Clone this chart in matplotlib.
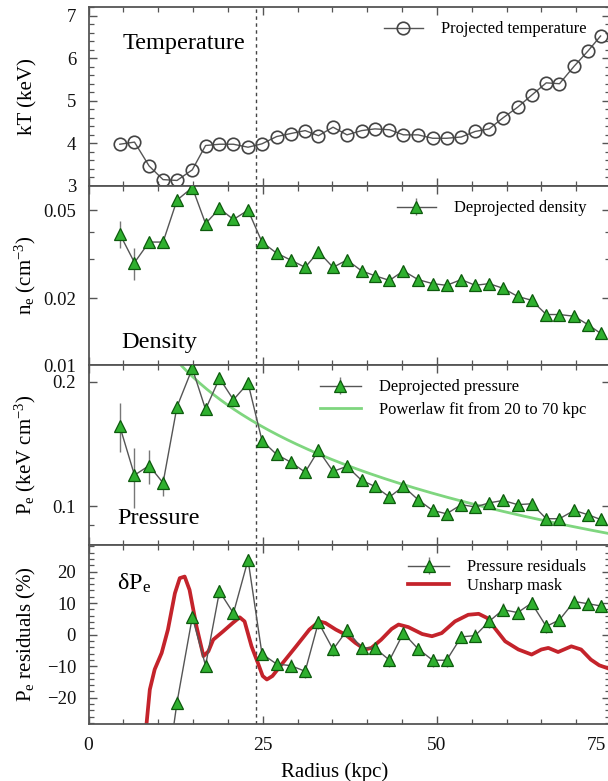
import matplotlib
matplotlib.use("Agg")
import matplotlib.pyplot as plt
from matplotlib.ticker import FixedLocator, NullFormatter, FixedFormatter, MultipleLocator
from matplotlib.transforms import offset_copy
import numpy as np

plt.rcParams['font.family'] = ['Liberation Serif', 'DejaVu Serif']
plt.rcParams['mathtext.fontset'] = 'stix'

# ---------------- data ----------------
radius = [4.5, 6.6, 8.7, 10.7, 12.7, 14.9, 16.8, 18.8, 20.8, 22.9, 24.9, 27.0, 29.0,
          31.1, 33.0, 35.1, 37.1, 39.2, 41.1, 43.2, 45.2, 47.3, 49.4, 51.4, 53.5,
          55.5, 57.5, 59.5, 61.6, 63.6, 65.7, 67.6, 69.7, 71.7, 73.5]

temperature = [3.98, 4.03, 3.47, 3.15, 3.13, 3.38, 3.95, 3.98, 3.98, 3.91, 3.99, 4.16,
               4.23, 4.30, 4.18, 4.38, 4.20, 4.30, 4.34, 4.32, 4.20, 4.20, 4.12, 4.12,
               4.15, 4.28, 4.34, 4.60, 4.85, 5.13, 5.42, 5.40, 5.81, 6.17, 6.52]

density = [0.039, 0.029, 0.0359, 0.0359, 0.0555, 0.0633, 0.0435, 0.0509, 0.0454, 0.050,
           0.0359, 0.032, 0.0298, 0.0276, 0.0325, 0.0276, 0.0298, 0.0266, 0.0253, 0.0241,
           0.0266, 0.0243, 0.0233, 0.0229, 0.0243, 0.0229, 0.0233, 0.0222, 0.0204, 0.0196,
           0.0169, 0.0169, 0.0166, 0.0152, 0.0139]
density_lo = [0.0337, 0.0242]
density_hi = [0.0445, 0.0337]
density_err = 0.0007

pressure = [0.156, 0.119, 0.1255, 0.114, 0.174, 0.2155, 0.1716, 0.204, 0.181, 0.1985,
            0.1443, 0.1335, 0.128, 0.121, 0.1367, 0.1215, 0.125, 0.1156, 0.1118, 0.1054,
            0.1118, 0.1038, 0.0978, 0.096, 0.101, 0.0997, 0.102, 0.1034, 0.101, 0.1015,
            0.0934, 0.0934, 0.0978, 0.0955, 0.093]
pressure_lo = [0.135, 0.0991, 0.1135, 0.1057]
pressure_hi = [0.178, 0.1386, 0.1367, 0.1183]
pressure_err = 0.0012

fit_norm = 0.156      # keV cm^-3 at fit_r0
fit_r0 = 24.9         # kpc
fit_index = -0.542
fit_rmin, fit_rmax = 10.0, 76.0

residuals = [-60, -63, -54, -53, -21.5, 5.6, -9.8, 13.7, 6.8, 23.7, -6.1, -9.3, -9.8,
             -11.6, 3.9, -4.7, 1.4, -4.2, -4.2, -8.1, 0.5, -4.5, -8.1, -8.1, -0.7,
             -0.3, 4.2, 7.9, 7.0, 10.0, 2.6, 4.7, 10.5, 9.8, 9.1]
residual_err = 2.0

mask_r = [7.6, 8.34, 8.8, 9.5, 10.5, 11.4, 12.4, 13.1, 13.8, 14.5, 15.5, 16.5, 17.2, 17.9,
          19.3, 20.7, 21.7, 22.4, 23.4, 24.3, 25.0, 25.6, 26.4, 27.9, 29.8, 31.7, 33.1,
          34.0, 35.5, 36.9, 38.3, 39.7, 40.6, 42.0, 43.5, 44.5, 45.9, 47.9, 49.3, 50.7,
          52.6, 54.5, 56.0, 57.2, 58.3, 59.8, 61.7, 63.6, 65.0, 66.0, 67.4, 69.3, 70.7,
          72.1, 73.3, 75.0]
mask_val = [-45, -28, -17.4, -11, -5.8, 1.6, 13.1, 17.9, 18.4, 14.2, 2.6, -6.8, -5.3, -1.6,
            1.0, 3.7, 5.5, 4.2, -3.7, -8.9, -13.1, -14.2, -13.1, -8.9, -3.7, 1.6, 4.2,
            3.7, 1.6, 0.0, -2.6, -4.7, -4.2, -1.6, 1.8, 3.2, 2.4, 0.2, -0.5, 0.5,
            4.2, 6.3, 6.6, 5.3, 2.1, -2.1, -4.7, -6.3, -4.7, -4.2, -5.5, -3.7, -4.7,
            -7.9, -9.7, -11.0]

break_radius = 24.0
x_ticks = [0, 25, 50, 75]

# ---------------- figure ----------------
W, H = 608, 781
fig = plt.figure(figsize=(W / 100, H / 100), dpi=100)

left_px, right_px = 88.5, 609.5
bounds = [(7, 186), (186, 365), (365, 545), (545, 724)]
axes = []
for (t, b) in bounds:
    ax = fig.add_axes([left_px / W, 1 - b / H, (right_px - left_px) / W, (b - t) / H])
    axes.append(ax)

xmax = (right_px - 88.3) / 6.97
spine_col = '#555555'
green_face = '#2fb02f'
green_edge = '#0d5a0d'
line_gray = '#555555'
leg_kw = dict(loc='upper right', bbox_to_anchor=(0.975, 0.975), frameon=False, fontsize=11.9,
              handlelength=2.35, handletextpad=1.1, borderaxespad=0.2)

for i, ax in enumerate(axes):
    ax.set_xlim(0, xmax)
    ax.xaxis.set_major_locator(FixedLocator(x_ticks))
    ax.xaxis.set_minor_locator(MultipleLocator(5))
    ax.tick_params(which='both', direction='in', top=True, right=True, colors=spine_col,
                   labelcolor='#111111', labelsize=13.5)
    ax.tick_params(axis='y', pad=9)
    ax.tick_params(which='major', length=6, width=1.0)
    ax.tick_params(which='minor', length=3.5, width=0.9)
    for s in ax.spines.values():
        s.set_color(spine_col)
        s.set_linewidth(1.3)
    if i < 3:
        ax.tick_params(labelbottom=False)
    ax.axvline(break_radius, color='#444444', lw=1.0, ls=(0, (2.5, 2.5)), zorder=1)
    ax.yaxis.set_label_coords(-0.097, 0.5)

# Temperature
ax = axes[0]
ax.plot(radius, temperature, color=line_gray, lw=1.0, marker='o', ms=9.0, mfc='none',
        mec='#444444', mew=1.2, label='Projected temperature', zorder=3)
ax.set_ylim(3.0, 7.2)
ax.yaxis.set_major_locator(FixedLocator([3, 4, 5, 6, 7]))
ax.yaxis.set_minor_locator(MultipleLocator(0.2))
ax.set_ylabel('kT (keV)', fontsize=15)
ax.text(0.066, 0.795, 'Temperature', transform=ax.transAxes, fontsize=17.5, va='center', ha='left')
ax.legend(**leg_kw)

# Density
ax = axes[1]
ax.set_yscale('log')
d = np.array(density)
dlo = d - density_err
dhi = d + density_err
dlo[:2] = density_lo
dhi[:2] = density_hi
ax.errorbar(radius, d, yerr=[d - dlo, dhi - d],
            color=line_gray, lw=1.0, ecolor='#777777', elinewidth=1.0, capsize=0,
            marker='^', ms=8.5, mfc=green_face, mec=green_edge, mew=0.9,
            label='Deprojected density', zorder=3)
ax.set_ylim(0.01, 0.0643)
ax.yaxis.set_major_locator(FixedLocator([0.01, 0.02, 0.05]))
ax.yaxis.set_major_formatter(FixedFormatter(['0.01', '0.02', '0.05']))
ax.yaxis.set_minor_locator(FixedLocator([0.03, 0.04]))
ax.yaxis.set_minor_formatter(NullFormatter())
ax.set_ylabel(r'n$\mathregular{_e}$ (cm$\mathregular{^{-3}}$)', fontsize=15)
ax.text(0.062, 0.125, 'Density', transform=ax.transAxes, fontsize=17.5, va='center', ha='left')
ax.legend(**leg_kw)

# Pressure
ax = axes[2]
ax.set_yscale('log')
p = np.array(pressure)
lo = p - pressure_err
hi = p + pressure_err
lo[:4] = pressure_lo
hi[:4] = pressure_hi
rfit = np.linspace(fit_rmin, fit_rmax, 200)
ax.plot(rfit, fit_norm * (rfit / fit_r0) ** fit_index, color='#7fd67f', lw=2.0,
        label='Powerlaw fit from 20 to 70 kpc', zorder=2)
ax.errorbar(radius, p, yerr=[p - lo, hi - p], color=line_gray, lw=1.0, ecolor='#777777',
            elinewidth=1.0, capsize=0, marker='^', ms=8.5, mfc=green_face, mec=green_edge,
            mew=0.9, label='Deprojected pressure', zorder=3)
ax.set_ylim(0.0807, 0.2196)
ax.yaxis.set_major_locator(FixedLocator([0.1, 0.2]))
ax.yaxis.set_major_formatter(FixedFormatter(['0.1', '0.2']))
ax.yaxis.set_minor_locator(FixedLocator([0.09]))
ax.yaxis.set_minor_formatter(NullFormatter())
ax.set_ylabel(r'P$\mathregular{_e}$ (keV cm$\mathregular{^{-3}}$)', fontsize=15)
ax.text(0.055, 0.145, 'Pressure', transform=ax.transAxes, fontsize=17.5, va='center', ha='left')
h, l = ax.get_legend_handles_labels()
kw = dict(leg_kw)
kw['handlelength'] = 2.5
ax.legend([h[1], h[0]], [l[1], l[0]], labelspacing=0.4, **kw)

# Residuals
ax = axes[3]
ax.plot(mask_r, mask_val, color='#c4232b', lw=2.7, label='Unsharp mask', zorder=2)
ax.errorbar(radius, residuals, yerr=residual_err, color=line_gray, lw=1.0, ecolor='#777777',
            elinewidth=1.0, capsize=0, marker='^', ms=8.5, mfc=green_face, mec=green_edge,
            mew=0.9, label='Pressure residuals', zorder=3)
ax.set_ylim(-28.3, 28.4)
ax.yaxis.set_major_locator(FixedLocator([-20, -10, 0, 10, 20]))
ax.yaxis.set_minor_locator(MultipleLocator(2))
ax.set_ylabel(r'P$\mathregular{_e}$ residuals (%)', fontsize=15)
ax.text(0.055, 0.785, r'$\mathregular{\delta P_e}$', transform=ax.transAxes, fontsize=17.5,
        va='center', ha='left')
h, l = ax.get_legend_handles_labels()
kw = dict(leg_kw)
kw['handlelength'] = 2.5
ax.legend([h[1], h[0]], [l[1], l[0]], labelspacing=0.15, **kw)
ax.xaxis.set_major_formatter(FixedFormatter([str(v) for v in x_ticks]))
ax.tick_params(axis='x', labelsize=14, pad=9)
ax.set_xlabel('Radius (kpc)', fontsize=15)
ax.xaxis.set_label_coords((335 - left_px) / (right_px - left_px), -0.215)
# tick label at the right end of the axis, which falls just outside the view limit;
# in the reference it sits just inside the (cropped) right edge
for v in x_ticks:
    if v > xmax:
        tr = offset_copy(ax.get_xaxis_transform(), fig=fig, x=-10.5, y=-9, units='points')
        ax.text(v, 0, str(v), transform=tr, ha='center', va='top', fontsize=14,
                color='#111111', clip_on=False)

fig.savefig('out.png', dpi=100)
